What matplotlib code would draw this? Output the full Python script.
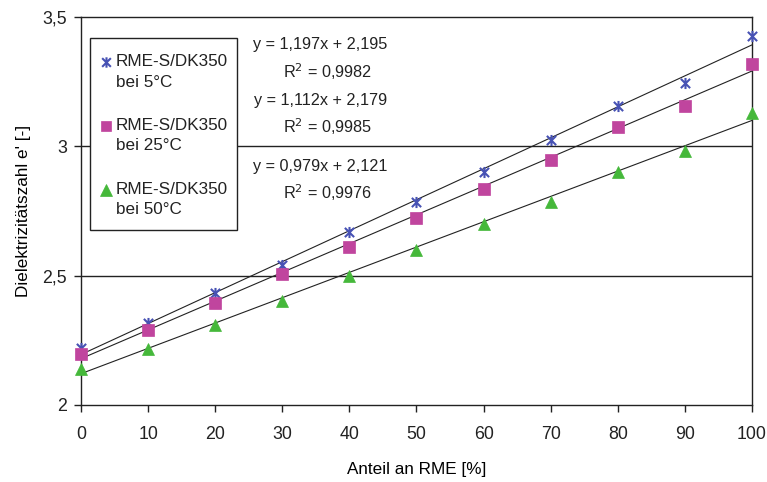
import matplotlib.pyplot as plt
import numpy as np
from matplotlib.path import Path
from matplotlib.patches import Rectangle

plt.rcParams['font.family'] = ['Liberation Sans', 'DejaVu Sans']

# RME share in percent
anteil = [0, 10, 20, 30, 40, 50, 60, 70, 80, 90, 100]

eps_5 = [2.22, 2.318, 2.432, 2.541, 2.669, 2.785, 2.90, 3.023, 3.156, 3.246, 3.426]
eps_25 = [2.196, 2.29, 2.395, 2.506, 2.612, 2.722, 2.835, 2.946, 3.075, 3.156, 3.318]
eps_50 = [2.138, 2.218, 2.309, 2.402, 2.50, 2.599, 2.698, 2.786, 2.902, 2.983, 3.128]

# linear trend (x as fraction of RME)
slopes = [1.197, 1.112, 0.979]
intercepts = [2.195, 2.179, 2.121]
r2 = ["0,9982", "0,9985", "0,9976"]

series = "RME-S/DK350"
temps = ["bei 5°C", "bei 25°C", "bei 50°C"]
colors = ["#4752b4", "#c0459e", "#45b83a"]

# Excel-like star: X with vertical bar
star = Path([(-1, -1), (1, 1), (-1, 1), (1, -1), (0, -1.2), (0, 1.2)],
            [Path.MOVETO, Path.LINETO, Path.MOVETO, Path.LINETO, Path.MOVETO, Path.LINETO])
markers = [star, "s", "^"]
sizes = [8, 8, 8.5]

W, H = 767, 482
fig = plt.figure(figsize=(W / 100, H / 100), dpi=100)
ax = fig.add_axes([0.1056, 0.1598, 0.8748, 0.805])


def fx(px):
    return px / W


def fy(py):
    return 1 - py / H


xs = np.array(anteil)
for ys, m, c, ms, k, d in zip([eps_5, eps_25, eps_50], markers, colors, sizes, slopes, intercepts):
    ax.plot(xs, k * xs / 100 + d, color="#222222", lw=0.8, zorder=2)
    ax.plot(xs, ys, linestyle="none", marker=m, color=c, markersize=ms,
            markeredgewidth=1.5 if m is star else 0.5, clip_on=False, zorder=3)

ax.set_xlim(0, 100)
ax.set_ylim(2, 3.5)
ax.set_xticks(range(0, 101, 10))
ax.set_yticks([2, 2.5, 3, 3.5])
ax.set_yticklabels(["2", "2,5", "3", "3,5"])
ax.tick_params(direction="out", length=5, width=1, labelsize=12.8, colors="#222222", pad=5)
ax.tick_params(axis="x", pad=10)
for s in ax.spines.values():
    s.set_color("#222222")
    s.set_linewidth(1)
for yv in [2.5, 3]:
    ax.axhline(yv, color="#222222", lw=1, zorder=1)

ax.set_xlabel("Anteil an RME [%]", fontsize=12.3, labelpad=14)
ax.set_ylabel("Dielektrizitätszahl e' [-]", fontsize=12.3, labelpad=8)

# trend equations
eq_y = [3.392, 3.287, 3.179, 3.075, 2.920, 2.820]
for i in range(3):
    eq = "y = %sx + %s" % (str(slopes[i]).replace(".", ","), str(intercepts[i]).replace(".", ","))
    ax.text(35.7, eq_y[2 * i], eq, fontsize=11.7, ha="center", va="center", color="#222222")
    ax.text(36.8, eq_y[2 * i + 1], "R$^2$ = " + r2[i], fontsize=11.7, ha="center", va="center", color="#222222")

# legend box (marker aligned with first label line, like Excel)
fig.patches.append(Rectangle((fx(90), fy(230)), fx(237) - fx(90), fy(38) - fy(230),
                             transform=fig.transFigure, facecolor="white",
                             edgecolor="#222222", lw=1, zorder=5))
for i in range(3):
    yc = 62 + 64 * i
    fig.add_artist(plt.Line2D([fx(106)], [fy(yc)], transform=fig.transFigure, linestyle="none",
                              marker=markers[i], color=colors[i], markersize=sizes[i] - 0.5,
                              markeredgewidth=1.5 if markers[i] is star else 0.5, zorder=6))
    fig.text(fx(116), fy(yc), series, fontsize=12.3, ha="left", va="center", color="#222222", zorder=6)
    fig.text(fx(116), fy(yc + 20), temps[i], fontsize=12.3, ha="left", va="center", color="#222222", zorder=6)

fig.savefig("out.png", dpi=100)
